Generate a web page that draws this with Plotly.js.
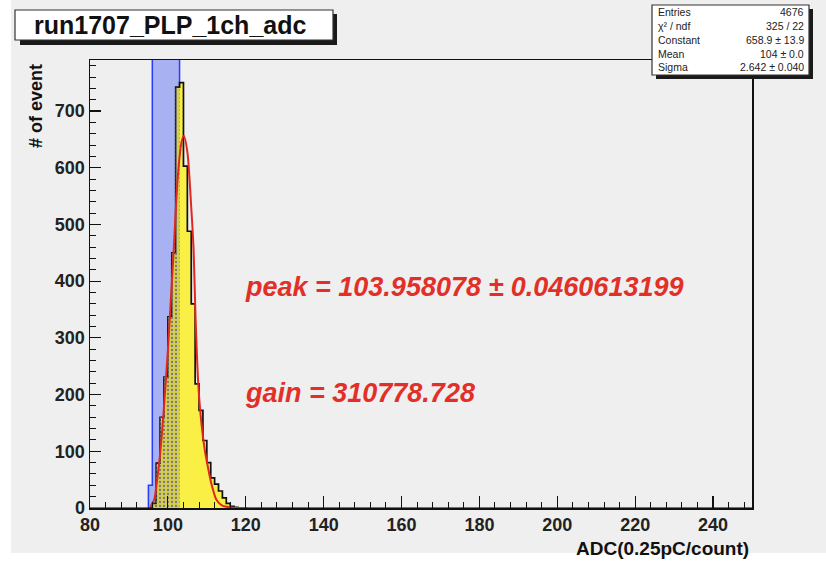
<!DOCTYPE html>
<html>
<head>
<meta charset="utf-8">
<script src="https://cdn.plot.ly/plotly-3.0.1.min.js"></script>
<style>html,body{margin:0;padding:0;background:#fff;}#plot{width:826px;height:563px;}</style>
</head>
<body>
<div id="plot"></div>
<script>
// ---- data ----
const histTitle = "run1707_PLP_1ch_adc";
const xTitle = "ADC(0.25pC/count)";
const yTitle = "# of event";
// yellow ADC histogram, 1-count bins starting at binStart
const binStart = 95;
const counts = [0, 8, 79, 160, 231, 337, 450, 742, 750, 603, 488, 360, 219, 172, 119, 80, 53, 42, 30, 18, 8, 3, 1];
// blue pedestal band histogram (goes off the top of the scale)
const pedStart = 95;
const pedCounts = [40, 900, 900, 900, 900, 900, 900, 900];
// shaded overlap region (bins of the histogram under the band)
const shadeFirstBin = 96;
const shadeLastBin = 102;
// gaussian fit curve
const fitX = [95.5, 96.5, 97.1, 98, 98.8, 100, 101, 101.5, 102.5, 103.5, 104.1, 105, 106, 106.6, 107.1, 107.8, 108.6, 109.5, 110.4, 111.2, 112.5, 114, 116, 118, 120.5];
const fitY = [2, 15, 42, 95, 160, 278, 396, 455, 580, 645, 656, 628, 530, 456, 337, 219, 150, 101, 68, 42, 14, 4, 1, 0, 0];
// stats box
const statLabels = ["Entries", "\u03c7\u00b2 / ndf", "Constant", "Mean", "Sigma"];
const statValues = ["4676", "325 / 22", "658.9 \u00b1 13.9", "104 \u00b1 0.0", "2.642 \u00b1 0.040"];
// fit result texts
const peakText = "peak = 103.958078 \u00b1 0.0460613199";
const gainText = "gain = 310778.728";
const xRange = [80, 250];
const yRange = [0, 790];

// ---- build step outlines ----
function stepTrace(start, vals, lo, hi) {
  const xs = [], ys = [];
  if (lo !== undefined) { xs.push(lo); ys.push(0); }
  vals.forEach((v, i) => { xs.push(start + i); ys.push(v); });
  xs.push(start + vals.length); ys.push(0);
  if (hi !== undefined) { xs.push(hi); ys.push(0); }
  return {x: xs, y: ys};
}
const ped = stepTrace(pedStart, pedCounts, xRange[0], xRange[1]);
const hist = stepTrace(binStart, counts);
const shadeVals = counts.slice(shadeFirstBin - binStart, shadeLastBin - binStart + 1);
const shade = stepTrace(shadeFirstBin, shadeVals);

const traces = [
  {type: 'scatter', mode: 'lines', x: ped.x, y: ped.y, line: {shape: 'hv', color: 'rgb(40,60,250)', width: 1.5},
   fill: 'tozeroy', fillcolor: 'rgb(168,178,243)', hoverinfo: 'skip'},
  {type: 'scatter', mode: 'lines', x: hist.x, y: hist.y, line: {shape: 'hv', color: '#111', width: 1.7},
   fill: 'tozeroy', fillcolor: '#f9ef45', hoverinfo: 'skip'},
  {type: 'scatter', mode: 'lines', x: shade.x, y: shade.y, line: {shape: 'hv', width: 0, color: 'rgba(0,0,0,0)'},
   fill: 'tozeroy', fillcolor: 'rgba(120,120,110,0.35)',
   fillpattern: {shape: '.', fgcolor: '#777', bgcolor: 'rgba(130,130,110,0.30)', size: 4, solidity: 0.25},
   hoverinfo: 'skip'},
  {type: 'scatter', mode: 'lines', x: fitX, y: fitY, line: {shape: 'spline', smoothing: 0.8, color: 'rgb(225,40,30)', width: 2},
   hoverinfo: 'skip'}
];

// pixel helpers for decorations (plot area: x 90..752, y 60..508)
const L = 90, R = 752, T = 60, B = 508;
const px = v => (v - L) / (R - L);
const py = v => (B - v) / (B - T);

const fontFam = '"Liberation Sans", Arial, Helvetica, sans-serif';
const shapes = [
  // canvas grey
  {type: 'rect', xref: 'paper', yref: 'paper', x0: px(11), x1: px(826), y0: py(0), y1: py(553), fillcolor: '#efefef', line: {width: 0}, layer: 'below'},
  // title box shadow + box
  {type: 'rect', xref: 'paper', yref: 'paper', x0: px(20), x1: px(337), y0: py(14), y1: py(45), fillcolor: '#1a1a1a', line: {width: 0}},
  {type: 'rect', xref: 'paper', yref: 'paper', x0: px(15), x1: px(333), y0: py(10), y1: py(40), fillcolor: '#ffffff', line: {color: '#333', width: 1.2}},
  // stats box shadow + box
  {type: 'rect', xref: 'paper', yref: 'paper', x0: px(656), x1: px(813), y0: py(9), y1: py(79), fillcolor: '#1a1a1a', line: {width: 0}},
  {type: 'rect', xref: 'paper', yref: 'paper', x0: px(652), x1: px(809), y0: py(5), y1: py(75), fillcolor: '#ffffff', line: {color: '#333', width: 1.2}}
];

const annotations = [
  {xref: 'paper', yref: 'paper', x: px(170), y: py(25), text: histTitle, showarrow: false, xanchor: 'center', yanchor: 'middle',
   font: {family: fontFam, size: 25, color: '#111', weight: 'bold'}},
  {xref: 'paper', yref: 'paper', x: px(751), y: py(548), text: xTitle, showarrow: false, xanchor: 'right', yanchor: 'middle',
   font: {family: fontFam, size: 19, color: '#111', weight: 'bold'}},
  {xref: 'paper', yref: 'paper', x: px(36), y: py(62), text: yTitle, showarrow: false, textangle: -90, xanchor: 'center', yanchor: 'top',
   font: {family: fontFam, size: 18, color: '#111', weight: 'bold'}},
  {xref: 'x', yref: 'y', x: 119.3, y: 389, text: peakText, showarrow: false, xanchor: 'left', yanchor: 'middle',
   font: {family: fontFam, size: 27, color: 'rgb(226,48,40)', weight: 'bold', style: 'italic'}},
  {xref: 'x', yref: 'y', x: 119.3, y: 203, text: gainText, showarrow: false, xanchor: 'left', yanchor: 'middle',
   font: {family: fontFam, size: 27, color: 'rgb(226,48,40)', weight: 'bold', style: 'italic'}}
];
const rowY = [12, 26, 40, 54, 67.5];
statLabels.forEach((lab, i) => {
  annotations.push({xref: 'paper', yref: 'paper', x: px(656), y: py(rowY[i]), text: lab, showarrow: false, xanchor: 'left', yanchor: 'middle',
    font: {family: fontFam, size: 10.5, color: '#222'}});
  annotations.push({xref: 'paper', yref: 'paper', x: px(806), y: py(rowY[i]), text: statValues[i], showarrow: false, xanchor: 'right', yanchor: 'middle',
    font: {family: fontFam, size: 10.5, color: '#222'}});
});

const axisCommon = {
  ticks: 'inside', showgrid: false, zeroline: false, showline: true, mirror: true,
  linecolor: '#111', linewidth: 1.5, tickcolor: '#111', tickwidth: 1.2,
  tickfont: {family: fontFam, size: 18, color: '#222', weight: 'bold'}
};
const layout = {
  width: 826, height: 563,
  margin: {l: L, r: 826 - R, t: T, b: 563 - B},
  paper_bgcolor: '#ffffff', plot_bgcolor: '#efefef',
  showlegend: false,
  xaxis: Object.assign({}, axisCommon, {range: xRange, tick0: 80, dtick: 20, ticklen: 12,
    minor: {dtick: 4, ticklen: 6, ticks: 'inside', tickcolor: '#111', tickwidth: 1, showgrid: false}}),
  yaxis: Object.assign({}, axisCommon, {range: yRange, tick0: 0, dtick: 100, ticklen: 11,
    minor: {dtick: 20, ticklen: 6, ticks: 'inside', tickcolor: '#111', tickwidth: 1, showgrid: false}}),
  shapes: shapes,
  annotations: annotations
};
Plotly.newPlot('plot', traces, layout, {staticPlot: true, displayModeBar: false});
</script>
</body>
</html>
